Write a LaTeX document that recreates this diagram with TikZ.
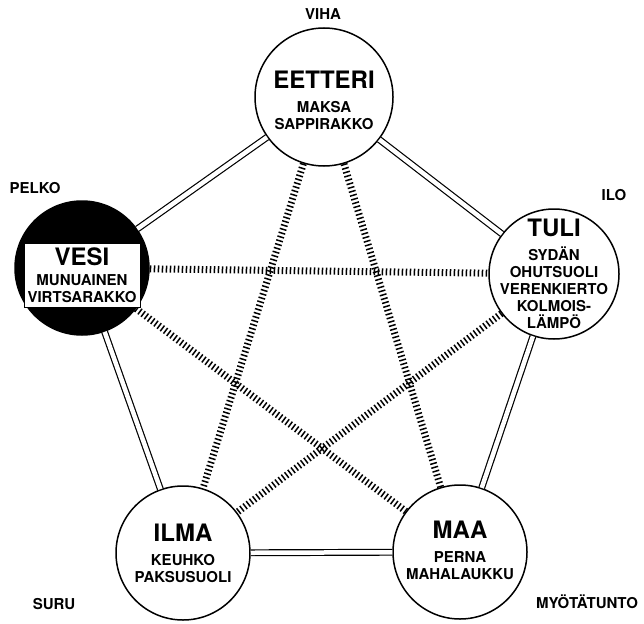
\documentclass[tikz,border=0pt]{standalone}
\usepackage{fontspec}
\setmainfont{TeX Gyre Heros}
\usepackage{xcolor}

\begin{document}
\begin{tikzpicture}[x=1pt, y=-1pt,
  element/.style={circle, draw, line width=1.5pt, minimum size=#1, inner sep=0pt},
  element/.default=134,
  bond/.style={double, double distance=4.5pt, line width=1.2pt},
  hatch/.style={line width=7pt, dash pattern=on 1.5pt off 2.5pt},
  organ/.style={align=center, inner sep=0pt, font=\bfseries\fontsize{15}{17}\selectfont},
  mood/.style={font=\bfseries\fontsize{15}{15}\selectfont}]
  \useasboundingbox[fill=white] (0,0) rectangle (644,623);

  % The five elements
  \node[element=138] (eetteri) at (324,97) {};
  \node[element, fill=black] (vesi) at (82,268) {};
  \node[element=130] (tuli) at (554,274) {};
  \node[element] (ilma) at (183,553) {};
  \node[element] (maa) at (460,552) {};

  % Outer ring
  \draw[bond] (eetteri) -- (tuli);
  \draw[bond] (tuli) -- (maa);
  \draw[bond] (maa) -- (ilma);
  \draw[bond] (ilma) -- (vesi);
  \draw[bond] (vesi) -- (eetteri);

  % Inner star
  \draw[hatch] (eetteri) -- (ilma);
  \draw[hatch] (eetteri) -- (maa);
  \draw[hatch] (vesi) -- (tuli);
  \draw[hatch] (vesi) -- (maa);
  \draw[hatch] (tuli) -- (ilma);

  % Texts inside the circles
  \node[organ] (eetteri-txt) at ([yshift=-3pt]eetteri)
    {{\fontsize{24}{24}\selectfont EETTERI}\\[7pt] MAKSA\\ SAPPIRAKKO};
  \node[organ, draw, fill=white, line width=1pt, minimum width=116pt,
    minimum height=64pt] (vesi-txt) at ([yshift=-7pt]vesi)
    {{\fontsize{24}{24}\selectfont VESI}\\[3pt] MUNUAINEN\\ VIRTSARAKKO};
  \node[organ] (tuli-txt) at (tuli)
    {{\fontsize{24}{24}\selectfont TULI}\\[7pt] SYDÄN\\ OHUTSUOLI\\ VERENKIERTO\\ KOLMOIS-\\ LÄMPÖ};
  \node[organ] (ilma-txt) at (ilma)
    {{\fontsize{24}{24}\selectfont ILMA}\\[7pt] KEUHKO\\ PAKSUSUOLI};
  \node[organ] (maa-txt) at ([yshift=2pt]maa)
    {{\fontsize{24}{24}\selectfont MAA}\\[7pt] PERNA\\ MAHALAUKKU};

  % Feelings
  \node[mood] (viha) at (323,14) {VIHA};
  \node[mood] (pelko) at (35,188) {PELKO};
  \node[mood] (ilo) at (614,195) {ILO};
  \node[mood] (suru) at (54,604) {SURU};
  \node[mood] (myotatunto) at (587,602) {MYÖTÄTUNTO};
\end{tikzpicture}
\end{document}
